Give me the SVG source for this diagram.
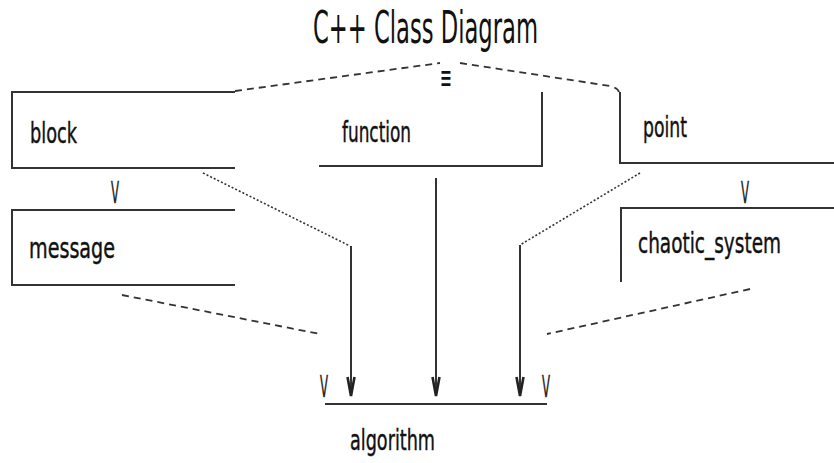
<svg xmlns="http://www.w3.org/2000/svg" width="834" height="463" viewBox="0 0 834 463">
<style>
text{font-family:"Liberation Sans Narrow","DejaVu Sans Condensed","Liberation Sans",sans-serif;fill:#111}
.lbl{font-size:28px;stroke:#111;stroke-width:0.4}
.ln{stroke:#333;stroke-width:2;fill:none}
.dash{stroke:#333;stroke-width:1.8;fill:none;stroke-dasharray:7,5}
.dot{stroke:#333;stroke-width:1.6;fill:none;stroke-dasharray:2,2}
.v{font-size:30px;fill:#222;stroke:#222;stroke-width:0.5}
</style>
<defs>
<marker id="ah" markerWidth="10" markerHeight="22" refX="5" refY="20" orient="0" markerUnits="userSpaceOnUse" viewBox="0 0 10 22">
<path d="M1.5,1 L5,20 L8.5,1" fill="none" stroke="#222" stroke-width="2.6"/>
</marker>
</defs>
<rect width="834" height="463" fill="#fff"/>
<text x="313" y="43" font-size="44" textLength="225" lengthAdjust="spacingAndGlyphs">C++ Class Diagram</text>
<g id="connectors">
<path class="dash" d="M235,91 L440,63"/>
<path class="dash" d="M460,63 L610,86 Q618,88 619,92"/>
<text x="440" y="89" font-size="34" textLength="12" lengthAdjust="spacingAndGlyphs">≡</text>
<path class="dot" d="M203,173 L350,246"/>
<path class="ln" d="M351,246 L351,396" marker-end="url(#ah)"/>
<path class="ln" d="M436,178 L436,396" marker-end="url(#ah)"/>
<path class="dot" d="M640,173 L520,245"/>
<path class="ln" d="M520,245 L520,396" marker-end="url(#ah)"/>
<path class="dash" d="M122,295 L320,334"/>
<path class="dash" d="M750,289 L547,334"/>
<text class="v" x="111" y="203" textLength="8" lengthAdjust="spacingAndGlyphs">V</text>
<text class="v" x="741" y="203" textLength="8" lengthAdjust="spacingAndGlyphs">V</text>
<text class="v" x="320" y="397" textLength="8" lengthAdjust="spacingAndGlyphs">V</text>
<text class="v" x="542" y="397" textLength="8" lengthAdjust="spacingAndGlyphs">V</text>
</g>
<g id="block">
<path class="ln" d="M235,92 L12,92 L12,168 L235,168"/>
<text class="lbl" x="30" y="143" textLength="47" lengthAdjust="spacingAndGlyphs">block</text>
</g>
<g id="message">
<path class="ln" d="M235,210 L12,210 L12,285 L235,285"/>
<text class="lbl" x="29" y="258" textLength="86" lengthAdjust="spacingAndGlyphs">message</text>
</g>
<g id="function">
<path class="ln" d="M542,92 L542,166 L319,166"/>
<text class="lbl" x="342" y="142" textLength="69" lengthAdjust="spacingAndGlyphs">function</text>
</g>
<g id="point">
<path class="ln" d="M620,92 L620,163 L834,163"/>
<text class="lbl" x="643" y="137" textLength="44" lengthAdjust="spacingAndGlyphs">point</text>
</g>
<g id="chaotic_system">
<path class="ln" d="M621,282 L621,208 L834,208"/>
<text class="lbl" x="638" y="253" textLength="143" lengthAdjust="spacingAndGlyphs">chaotic_system</text>
</g>
<g id="algorithm">
<path class="ln" d="M325,404 L547,404"/>
<text class="lbl" x="350" y="450" textLength="85" lengthAdjust="spacingAndGlyphs">algorithm</text>
</g>
</svg>
